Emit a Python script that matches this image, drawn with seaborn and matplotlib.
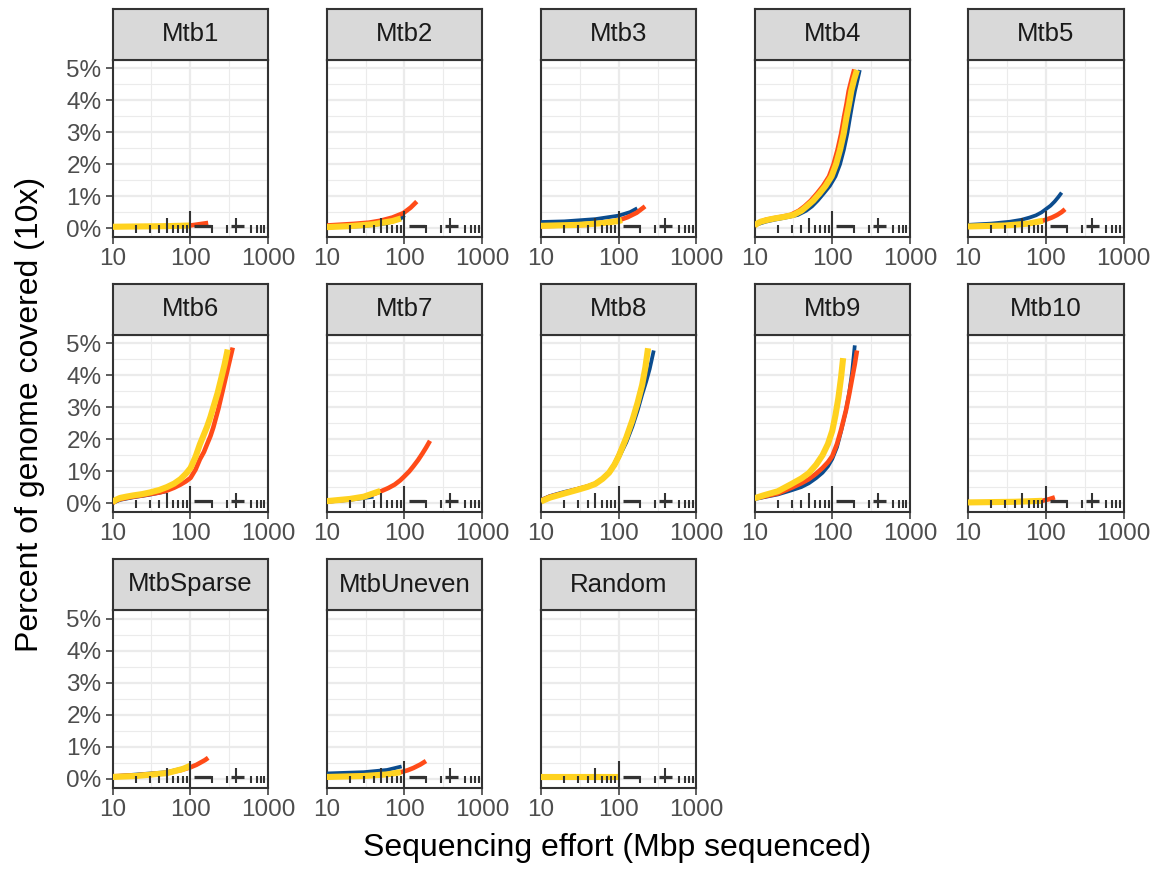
import numpy as np
import pandas as pd
import matplotlib
matplotlib.use("Agg")
import matplotlib.pyplot as plt
import seaborn as sns

# ---------------- data (effort in Mbp, coverage in percent) ----------------
PANELS = ["Mtb1", "Mtb2", "Mtb3", "Mtb4", "Mtb5", "Mtb6", "Mtb7", "Mtb8",
          "Mtb9", "Mtb10", "MtbSparse", "MtbUneven", "Random"]

X_TICKS = [10, 100, 1000]
X_TICK_LABELS = ["10", "100", "1000"]
Y_TICKS = [0, 1, 2, 3, 4, 5]
Y_TICK_LABELS = ["0%", "1%", "2%", "3%", "4%", "5%"]

mtb1_blue_x = [10, 40, 100];            mtb1_blue_y = [0.03, 0.05, 0.07]
mtb1_yellow_x = [10, 20, 50, 100];      mtb1_yellow_y = [0.04, 0.05, 0.06, 0.08]
mtb1_red_x = [100, 130, 170];           mtb1_red_y = [0.08, 0.12, 0.16]

mtb2_blue_x = [10, 30, 60, 90, 100];    mtb2_blue_y = [0.02, 0.06, 0.15, 0.3, 0.4]
mtb2_yellow_x = [10, 20, 40, 70, 90];   mtb2_yellow_y = [0.03, 0.06, 0.12, 0.22, 0.3]
mtb2_red_x = [10, 22, 35, 49, 70, 97, 120, 144]
mtb2_red_y = [0.08, 0.13, 0.17, 0.23, 0.33, 0.47, 0.64, 0.83]

mtb3_blue_x = [10, 20, 50, 100, 140, 173]; mtb3_blue_y = [0.19, 0.21, 0.28, 0.39, 0.5, 0.62]
mtb3_yellow_x = [10, 30, 60, 100, 110];    mtb3_yellow_y = [0.07, 0.1, 0.15, 0.22, 0.25]
mtb3_red_x = [10, 40, 100, 130, 170, 218]; mtb3_red_y = [0.06, 0.1, 0.24, 0.34, 0.48, 0.68]

mtb4_blue_x = [10, 12, 14, 18, 22, 28, 36, 46, 55, 65, 78, 93, 110, 126, 141, 156, 170, 182, 196, 212, 226]
mtb4_blue_y = [0.08, 0.15, 0.2, 0.26, 0.3, 0.35, 0.41, 0.54, 0.68, 0.86, 1.09, 1.32, 1.62, 2.0, 2.45, 2.95, 3.49, 3.9, 4.3, 4.65, 4.95]
mtb4_yellow_x = [10, 11, 12, 15, 18, 24, 31.6, 40, 47, 57, 69, 82, 98, 112, 126, 140, 153, 165, 176, 191, 208]
mtb4_yellow_y = [0.08, 0.15, 0.2, 0.26, 0.3, 0.35, 0.41, 0.54, 0.68, 0.86, 1.09, 1.32, 1.62, 2.0, 2.45, 2.95, 3.49, 3.9, 4.3, 4.65, 4.95]
mtb4_red_x = [10, 11, 12, 14, 17, 22, 29, 37, 44, 53, 64, 76, 91, 104, 117, 130, 142, 153, 163, 177, 192]
mtb4_red_y = [0.08, 0.15, 0.2, 0.26, 0.3, 0.35, 0.41, 0.54, 0.68, 0.86, 1.09, 1.32, 1.62, 2.0, 2.45, 2.95, 3.49, 3.9, 4.3, 4.65, 4.97]

mtb5_blue_x = [10, 20, 35, 49, 62, 75, 88, 100, 115, 130, 145, 160]
mtb5_blue_y = [0.1, 0.14, 0.2, 0.26, 0.33, 0.4, 0.49, 0.59, 0.7, 0.83, 0.97, 1.11]
mtb5_yellow_x = [10, 30, 60, 92];              mtb5_yellow_y = [0.05, 0.08, 0.14, 0.23]
mtb5_red_x = [10, 30, 60, 80, 100, 120, 140, 160, 177]
mtb5_red_y = [0.05, 0.08, 0.14, 0.19, 0.26, 0.33, 0.41, 0.5, 0.59]

mtb6_blue_x = [10, 12.5, 18.5, 30, 50];        mtb6_blue_y = [0.0, 0.1, 0.18, 0.26, 0.37]
mtb6_yellow_x = [10, 11, 12.5, 15, 18.5, 24, 30, 40, 50, 62, 75, 88, 101, 117, 133, 150, 165, 182, 198, 225, 250, 277, 303]
mtb6_yellow_y = [0.02, 0.1, 0.16, 0.2, 0.24, 0.28, 0.33, 0.41, 0.5, 0.61, 0.75, 0.92, 1.1, 1.45, 1.84, 2.15, 2.4, 2.7, 3.0, 3.45, 3.9, 4.35, 4.81]
mtb6_red_x = [10, 11, 12.5, 15, 18.5, 24, 30, 40, 50, 62, 75, 88, 101, 117, 133, 150, 165, 182, 198, 230, 260, 300, 352]
mtb6_red_y = [0.0, 0.07, 0.12, 0.16, 0.2, 0.24, 0.28, 0.33, 0.39, 0.48, 0.58, 0.68, 0.79, 1.05, 1.37, 1.6, 1.85, 2.1, 2.37, 2.95, 3.5, 4.15, 4.87]

mtb7_blue_x = [10, 20, 40];                    mtb7_blue_y = [0.04, 0.1, 0.2]
mtb7_yellow_x = [10, 20, 30, 49];              mtb7_yellow_y = [0.06, 0.13, 0.2, 0.38]
mtb7_red_x = [10, 20, 30, 40, 50, 62, 75, 88, 100, 115, 130, 150, 170, 190, 213]
mtb7_red_y = [0.05, 0.12, 0.2, 0.28, 0.37, 0.47, 0.58, 0.71, 0.84, 0.99, 1.15, 1.35, 1.55, 1.74, 1.95]

mtb8_blue_x = [10, 13, 20, 30, 40, 50, 62, 75, 88, 100, 125, 150, 175, 200, 225, 250, 282]
mtb8_blue_y = [0.1, 0.22, 0.35, 0.45, 0.53, 0.62, 0.77, 0.95, 1.17, 1.42, 1.9, 2.4, 2.9, 3.4, 3.8, 4.2, 4.78]
mtb8_yellow_x = [10, 13, 20, 30, 40, 50, 62, 75, 88, 100, 125, 150, 175, 200, 220, 238]
mtb8_yellow_y = [0.05, 0.17, 0.3, 0.42, 0.51, 0.6, 0.76, 0.95, 1.2, 1.47, 2.05, 2.6, 3.15, 3.7, 4.25, 4.85]
mtb8_red_x = [10, 13, 20, 30, 40, 50, 62, 75, 88, 100, 125, 150, 165, 180]
mtb8_red_y = [0.08, 0.2, 0.32, 0.44, 0.52, 0.6, 0.76, 0.95, 1.22, 1.5, 2.05, 2.6, 2.9, 3.2]

mtb9_blue_x = [10, 13, 20, 30, 40, 50, 62, 75, 88, 100, 115, 130, 150, 165, 180, 195]
mtb9_blue_y = [0.12, 0.18, 0.27, 0.4, 0.5, 0.62, 0.78, 0.95, 1.15, 1.38, 1.75, 2.25, 2.9, 3.45, 4.1, 4.94]
mtb9_yellow_x = [10, 13, 20, 30, 40, 50, 62, 75, 88, 100, 110, 120, 130, 138]
mtb9_yellow_y = [0.15, 0.24, 0.37, 0.6, 0.77, 0.94, 1.2, 1.5, 1.85, 2.26, 2.75, 3.3, 3.95, 4.54]
mtb9_red_x = [10, 13, 20, 30, 40, 50, 62, 75, 88, 100, 115, 130, 150, 165, 180, 195, 208]
mtb9_red_y = [0.15, 0.2, 0.3, 0.48, 0.62, 0.75, 0.92, 1.1, 1.28, 1.47, 1.85, 2.3, 2.9, 3.4, 3.9, 4.35, 4.78]

mtb10_blue_x = [10, 50, 90];                   mtb10_blue_y = [0.02, 0.04, 0.06]
mtb10_yellow_x = [10, 40, 90];                 mtb10_yellow_y = [0.02, 0.04, 0.07]
mtb10_red_x = [90, 110, 131];                  mtb10_red_y = [0.07, 0.12, 0.18]

sparse_blue_x = [10, 50, 90];                  sparse_blue_y = [0.07, 0.2, 0.35]
sparse_yellow_x = [10, 20, 50, 80, 100];       sparse_yellow_y = [0.05, 0.08, 0.17, 0.3, 0.4]
sparse_red_x = [10, 20, 50, 75, 100, 120, 140, 155, 170]
sparse_red_y = [0.07, 0.1, 0.18, 0.26, 0.35, 0.43, 0.52, 0.58, 0.65]

uneven_blue_x = [10, 30, 60, 92];              uneven_blue_y = [0.16, 0.2, 0.27, 0.38]
uneven_yellow_x = [10, 30, 60, 90];            uneven_yellow_y = [0.05, 0.08, 0.13, 0.2]
uneven_red_x = [10, 50, 90, 110, 130, 160, 189]
uneven_red_y = [0.05, 0.11, 0.2, 0.26, 0.33, 0.44, 0.55]

random_yellow_x = [10, 100];                   random_yellow_y = [0.04, 0.04]

SERIES_DATA = {
    "Mtb1": [("blue", mtb1_blue_x, mtb1_blue_y), ("yellow", mtb1_yellow_x, mtb1_yellow_y), ("red", mtb1_red_x, mtb1_red_y)],
    "Mtb2": [("blue", mtb2_blue_x, mtb2_blue_y), ("yellow", mtb2_yellow_x, mtb2_yellow_y), ("red", mtb2_red_x, mtb2_red_y)],
    "Mtb3": [("blue", mtb3_blue_x, mtb3_blue_y), ("yellow", mtb3_yellow_x, mtb3_yellow_y), ("red", mtb3_red_x, mtb3_red_y)],
    "Mtb4": [("blue", mtb4_blue_x, mtb4_blue_y), ("yellow", mtb4_yellow_x, mtb4_yellow_y), ("red", mtb4_red_x, mtb4_red_y)],
    "Mtb5": [("blue", mtb5_blue_x, mtb5_blue_y), ("yellow", mtb5_yellow_x, mtb5_yellow_y), ("red", mtb5_red_x, mtb5_red_y)],
    "Mtb6": [("blue", mtb6_blue_x, mtb6_blue_y), ("yellow", mtb6_yellow_x, mtb6_yellow_y), ("red", mtb6_red_x, mtb6_red_y)],
    "Mtb7": [("blue", mtb7_blue_x, mtb7_blue_y), ("yellow", mtb7_yellow_x, mtb7_yellow_y), ("red", mtb7_red_x, mtb7_red_y)],
    "Mtb8": [("blue", mtb8_blue_x, mtb8_blue_y), ("yellow", mtb8_yellow_x, mtb8_yellow_y), ("red", mtb8_red_x, mtb8_red_y)],
    "Mtb9": [("blue", mtb9_blue_x, mtb9_blue_y), ("yellow", mtb9_yellow_x, mtb9_yellow_y), ("red", mtb9_red_x, mtb9_red_y)],
    "Mtb10": [("blue", mtb10_blue_x, mtb10_blue_y), ("yellow", mtb10_yellow_x, mtb10_yellow_y), ("red", mtb10_red_x, mtb10_red_y)],
    "MtbSparse": [("blue", sparse_blue_x, sparse_blue_y), ("yellow", sparse_yellow_x, sparse_yellow_y), ("red", sparse_red_x, sparse_red_y)],
    "MtbUneven": [("blue", uneven_blue_x, uneven_blue_y), ("yellow", uneven_yellow_x, uneven_yellow_y), ("red", uneven_red_x, uneven_red_y)],
    "Random": [("yellow", random_yellow_x, random_yellow_y)],
}

rows = []
for panel, series in SERIES_DATA.items():
    for name, xs, ys in series:
        for x, y in zip(xs, ys):
            rows.append({"panel": panel, "series": name, "effort": x, "pct": y})
df = pd.DataFrame(rows)

# ---------------- style ----------------
COLORS = {"blue": "#0B4C8E", "yellow": "#FFD21F", "red": "#FF4B18"}
WIDTHS = {"blue": 2.7, "yellow": 4.4, "red": 3.3}
DRAW_ORDER = ["blue", "red", "yellow"]

sns.set_theme(style="white")
plt.rcParams["font.family"] = ["Liberation Sans", "DejaVu Sans"]

W, H = 1165, 869
fig = plt.figure(figsize=(W / 100, H / 100), dpi=100)

COL_LEFT = [112.5, 326.7, 541, 754.5, 968]
ROW_TOP = [59.5, 334.5, 610]
PW, PH = 155.5, 177.5
STRIP_H = 51

GRID = "#EBEBEB"
DARK = "#333333"
TXT = "#4D4D4D"

for i, panel in enumerate(PANELS):
    r, c = divmod(i, 5)
    left = COL_LEFT[c] / W
    bottom = 1 - (ROW_TOP[r] + PH) / H
    ax = fig.add_axes([left, bottom, PW / W, PH / H])
    ax.set_xscale("log")
    ax.set_xlim(10, 1000)
    ax.set_ylim(-0.28, 5.28)
    ax.set_facecolor("white")

    # grid
    for gx in [10 ** 1.5, 10 ** 2.5]:
        ax.axvline(gx, color=GRID, lw=0.8, zorder=0)
    for gy in np.arange(0.5, 5.0, 1.0):
        ax.axhline(gy, color=GRID, lw=0.8, zorder=0)
    for gx in X_TICKS:
        ax.axvline(gx, color=GRID, lw=1.6, zorder=0)
    for gy in Y_TICKS:
        ax.axhline(gy, color=GRID, lw=1.6, zorder=0)

    sub = df[df.panel == panel]
    for s in DRAW_ORDER:
        d = sub[sub.series == s]
        if len(d) == 0:
            continue
        sns.lineplot(data=d, x="effort", y="pct", color=COLORS[s], lw=WIDTHS[s],
                     estimator=None, sort=False, ax=ax, legend=False, zorder=3,
                     solid_capstyle="butt", solid_joinstyle="round")

    # log-tick style annotation near zero
    short_t = [20, 30, 40, 60, 70, 80, 90, 190, 295, 600, 720, 810, 900]
    mid_t = [50, 388]
    for t in short_t:
        ax.plot([t, t], [-0.14, 0.09], color=DARK, lw=1.5, zorder=4, solid_capstyle="butt")
    for t in mid_t:
        ax.plot([t, t], [-0.14, 0.32], color=DARK, lw=1.5, zorder=4, solid_capstyle="butt")
    ax.plot([100, 100], [-0.28, 0.54], color=DARK, lw=1.5, zorder=4, solid_capstyle="butt")
    ax.plot([113, 186], [0.05, 0.05], color=DARK, lw=2.3, zorder=4, solid_capstyle="butt")
    ax.plot([330, 490], [0.05, 0.05], color=DARK, lw=2.3, zorder=4, solid_capstyle="butt")
    ax.plot([985, 1000], [0.3, 0.3], color=DARK, lw=1.5, zorder=4, solid_capstyle="butt")

    ax.set_xlabel("")
    ax.set_ylabel("")
    ax.set_xticks(X_TICKS)
    ax.set_xticklabels(X_TICK_LABELS)
    ax.xaxis.set_minor_locator(matplotlib.ticker.NullLocator())
    ax.tick_params(axis="x", which="major", direction="out", length=5, width=1.1,
                   color=DARK, labelsize=17.5, labelcolor=TXT, pad=3, bottom=True)
    ax.set_yticks(Y_TICKS)
    if c == 0:
        ax.set_yticklabels(Y_TICK_LABELS)
        ax.tick_params(axis="y", direction="out", length=5, width=1.1, color=DARK,
                       labelsize=17.5, labelcolor=TXT, pad=3, left=True)
    else:
        ax.set_yticklabels([])
        ax.tick_params(axis="y", length=0)
    for sp in ax.spines.values():
        sp.set_visible(True)
        sp.set_color(DARK)
        sp.set_linewidth(1.5)

    # strip
    sax = fig.add_axes([left, 1 - ROW_TOP[r] / H, PW / W, STRIP_H / H])
    sax.set_facecolor("#D9D9D9")
    sax.set_xticks([])
    sax.set_yticks([])
    for sp in sax.spines.values():
        sp.set_visible(True)
        sp.set_color(DARK)
        sp.set_linewidth(1.5)
    sax.text(0.5, 0.5, panel, ha="center", va="center", fontsize=18.5,
             color="#1A1A1A", transform=sax.transAxes)

fig.text(617 / W, 1 - 848 / H, "Sequencing effort (Mbp sequenced)", ha="center",
         va="center", fontsize=23, color="black")
fig.text(30 / W, 1 - 414 / H, "Percent of genome covered (10x)", ha="center",
         va="center", rotation=90, fontsize=23, color="black")

fig.savefig("out.png", dpi=100, facecolor="white")
